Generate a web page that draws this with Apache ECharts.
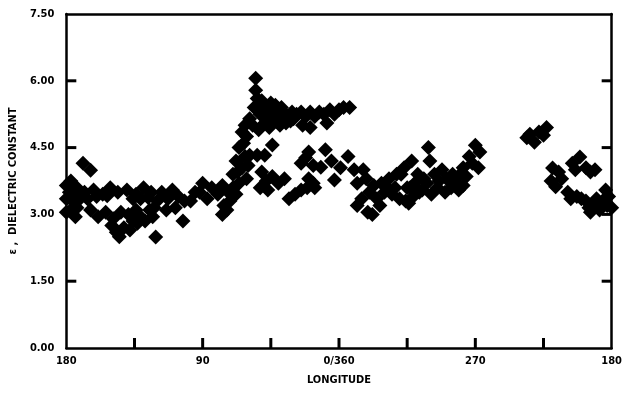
<!DOCTYPE html>
<html>
<head>
<meta charset="utf-8">
<script src="https://cdn.jsdelivr.net/npm/echarts@6/dist/echarts.min.js"></script>
<style>
  html, body { margin: 0; padding: 0; background: #fff; }
  #chart { width: 625px; height: 393px; }
</style>
</head>
<body>
<div id="chart"></div>
<script>
// x = degrees along the track from the 180 meridian (axis runs 180 -> 90 -> 0/360 -> 270 -> 180)
const xTickLabels = { 0: '180', 90: '90', 180: '0/360', 270: '270', 360: '180' }
const xTicks = [0, 45, 90, 135, 180, 225, 270, 315, 360]
const yTicks = [0, 1.5, 3, 4.5, 6, 7.5]

const seg180to90 = [
  [0, 3.65], [0, 3.35], [0, 3.05], [3, 3.75], [4, 3.3], [3, 3.1], [6, 2.95], [7, 3.6], [9, 3.35], [7, 3.15],
  [2, 3.5], [5, 3.45],
  [11, 4.15], [16, 3.99],
  [12, 3.5], [18, 3.55], [24, 3.45], [29, 3.6], [34, 3.5], [40, 3.55], [46, 3.45], [51, 3.6], [56, 3.5],
  [14, 3.35], [20, 3.4], [27, 3.42], [44, 3.35], [49, 3.35], [54, 3.38],
  [16, 3.1], [21, 2.95], [26, 3.05], [31, 2.9], [36, 3.05], [41, 3.0], [46, 3.1],
  [33, 2.6], [35, 2.5], [38, 2.7], [42, 2.65], [47, 2.8], [52, 2.85], [57, 2.95], [59, 2.49],
  [30, 2.75], [44, 2.85], [49, 2.95], [55, 3.1], [58, 3.15],
  [60, 3.3], [63, 3.5], [67, 3.35], [70, 3.55], [74, 3.4], [66, 3.1], [72, 3.15], [77, 2.85], [78, 3.3],
  [82, 3.3], [85, 3.5], [88, 3.5]
]

const seg90to0 = [
  [90, 3.7], [93, 3.35], [96, 3.6], [100, 3.45], [104, 3.2], [103, 3.65], [107, 3.5], [103, 3.0], [106, 3.1],
  [108, 3.3], [110, 3.6], [110, 3.9], [112, 4.2], [114, 4.5], [116, 4.85], [118, 5.0], [114, 3.7], [116, 4.05], [118, 4.3],
  [112, 3.45], [113, 3.95], [117, 4.6], [119, 4.75], [120, 4.1], [119, 3.8],
  [125, 6.06], [125, 5.79],
  [121, 5.15], [124, 5.4], [126, 5.6], [128, 5.25], [130, 5.45], [131, 5.05], [133, 5.3], [135, 5.5], [137, 5.15],
  [139, 5.3], [141, 5.0], [143, 5.3], [146, 5.2], [149, 5.3], [152, 5.25], [155, 5.3], [158, 5.2], [156, 5.0],
  [123, 5.0], [127, 4.9], [129, 5.55], [132, 5.2], [134, 4.95], [138, 5.45], [140, 5.15], [142, 5.4], [145, 5.05],
  [148, 5.1], [150, 5.15],
  [161, 4.95], [161, 5.3], [164, 5.2], [167, 5.3], [170, 5.25], [172, 5.05], [174, 5.35], [177, 5.25], [180, 5.35],
  [136, 4.56], [121, 4.33], [126, 4.33], [131, 4.33],
  [129, 3.95], [132, 3.75], [136, 3.85], [140, 3.7], [144, 3.8], [133, 3.55], [128, 3.6],
  [147, 3.35], [151, 3.45], [155, 3.55], [159, 3.6], [163, 3.7],
  [158, 4.27], [155, 4.15], [160, 4.4], [163, 4.1], [160, 3.8], [164, 3.6], [168, 4.06], [171, 4.45], [175, 4.2], [177, 3.77]
]

const seg360to270 = [
  [183, 5.4], [187, 5.4], [181, 4.05], [186, 4.3], [190, 4.0],
  [192, 3.7], [196, 4.0], [198, 3.8], [203, 3.65], [208, 3.7], [213, 3.8], [218, 3.9], [223, 4.05], [228, 4.2],
  [192, 3.2], [195, 3.35], [199, 3.05], [202, 3.0], [205, 3.35], [210, 3.5], [215, 3.45], [220, 3.35], [225, 3.6], [230, 3.7],
  [221, 3.9], [224, 3.3], [227, 3.6], [233, 3.5], [236, 3.8], [239, 4.5], [240, 4.2], [243, 3.9], [245, 3.6],
  [248, 4.0], [251, 3.8], [254, 3.6], [257, 3.7], [260, 3.9], [262, 4.05], [266, 4.3], [270, 4.55], [273, 4.4],
  [272, 4.05], [226, 3.25], [250, 3.5], [262, 3.65],
  [200, 3.5], [207, 3.2], [212, 3.6], [217, 3.6], [229, 3.4], [232, 3.9], [235, 3.55], [238, 3.7], [241, 3.45],
  [246, 3.75], [255, 3.9], [259, 3.55], [264, 3.85], [268, 4.15]
]

const seg270to180 = [
  [304, 4.72], [309, 4.62], [312, 4.85], [317, 4.95], [306, 4.8], [315, 4.78],
  [321, 4.04], [323, 3.62], [320, 3.75], [327, 3.8], [325, 3.95],
  [334, 4.15], [339, 4.29], [343, 4.05], [349, 4.0], [336, 4.0], [346, 3.95],
  [331, 3.5], [337, 3.4], [343, 3.3], [348, 3.25], [354, 3.3], [358, 3.4], [360, 3.15], [352, 3.1], [345, 3.15], [356, 3.55],
  [333, 3.35], [340, 3.35], [346, 3.05], [350, 3.35], [357, 3.2]
]

const font = 'DejaVu Sans Condensed'
const myChart = echarts.init(document.getElementById('chart'), null, { renderer: 'canvas' })

const lineStyle = { color: '#000', width: 2.5 }
const TICK = 10

// inward tick marks as thin filled rects, positioned through the axis scale
const tickSeries = (data, dir) => ({
  type: 'custom',
  coordinateSystem: 'cartesian2d',
  encode: { x: 0, y: 1 },
  data,
  clip: false,
  silent: true,
  z: 10,
  renderItem: (params, api) => {
    const p = api.coord([api.value(0), api.value(1)])
    const shape = dir === 'up'
      ? { x: p[0] - 1.5, y: p[1] - TICK, width: 3, height: TICK }
      : dir === 'right'
        ? { x: p[0], y: p[1] - 1.5, width: TICK, height: 3 }
        : { x: p[0] - TICK, y: p[1] - 1.5, width: TICK, height: 3 }
    return { type: 'rect', shape, style: { fill: '#000' } }
  }
})

myChart.setOption({
  animation: false,
  backgroundColor: '#fff',
  grid: { left: 63, right: 5, top: 14, bottom: 45 },
  xAxis: [
    {
      type: 'value', min: 0, max: 360, interval: 45,
      axisLine: { show: true, onZero: false, lineStyle },
      axisTick: { show: false },
      splitLine: { show: false },
      axisLabel: {
        color: '#000', fontFamily: font, fontWeight: 'bold', fontSize: 11, margin: 8,
        formatter: (v) => xTickLabels[v] || ''
      },
      name: 'LONGITUDE', nameLocation: 'middle', nameGap: 27,
      nameTextStyle: { color: '#000', fontFamily: font, fontWeight: 'bold', fontSize: 11 }
    },
    {
      type: 'value', position: 'top', min: 0, max: 360,
      axisLine: { show: true, onZero: false, lineStyle },
      axisTick: { show: false }, axisLabel: { show: false }, splitLine: { show: false }
    }
  ],
  yAxis: [
    {
      type: 'value', min: yTicks[0], max: yTicks[yTicks.length - 1], interval: 1.5,
      axisLine: { show: true, onZero: false, lineStyle },
      axisTick: { show: false },
      splitLine: { show: false },
      axisLabel: {
        color: '#000', fontFamily: font, fontWeight: 'bold', fontSize: 11, margin: 12,
        formatter: (v) => v.toFixed(2)
      },
      name: 'ε ,  DIELECTRIC CONSTANT', nameLocation: 'middle', nameGap: 46,
      nameTextStyle: { color: '#000', fontFamily: font, fontWeight: 'bold', fontSize: 11 }
    },
    {
      type: 'value', position: 'right', min: yTicks[0], max: yTicks[yTicks.length - 1], interval: 1.5,
      axisLine: { show: true, onZero: false, lineStyle },
      axisTick: { show: false }, axisLabel: { show: false }, splitLine: { show: false }
    }
  ],
  series: [
    ...[seg180to90, seg90to0, seg360to270, seg270to180].map(d => ({
      type: 'scatter',
      data: d,
      symbol: 'diamond',
      symbolSize: 15,
      itemStyle: { color: '#000', opacity: 1 },
      clip: false
    })),
    tickSeries(xTicks.slice(1, -1).map(x => [x, 0]), 'up'),
    tickSeries(yTicks.slice(1, -1).map(y => [0, y]), 'right'),
    tickSeries(yTicks.slice(1, -1).map(y => [360, y]), 'left')
  ]
})
</script>
</body>
</html>
